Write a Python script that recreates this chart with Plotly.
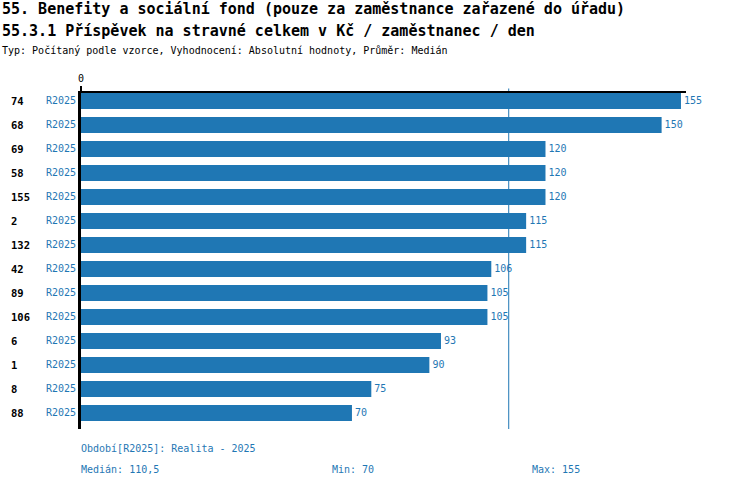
import plotly.graph_objects as go

ids = ["74", "68", "69", "58", "155", "2", "132", "42", "89", "106", "6", "1", "8", "88"]
period = ["R2025"] * 14
values = [155, 150, 120, 120, 120, 115, 115, 106, 105, 105, 93, 90, 75, 70]
median_val = 110.5
min_val = 70
max_val = 155

title1 = "55. Benefity a sociální fond (pouze za zaměstnance zařazené do úřadu)"
title2 = "55.3.1 Příspěvek na stravné celkem v Kč / zaměstnanec / den"
subtitle = "Typ: Počítaný podle vzorce, Vyhodnocení: Absolutní hodnoty, Průměr: Medián"
period_text = "Období[R2025]: Realita - 2025"

BLUE = "#1f77b4"
MONO = "DejaVu Sans Mono"

W, H = 750, 488
L, R, T, B = 81, 64, 92.5, 59
pw = W - L - R
ph = H - T - B

ypos = list(range(len(values)))

fig = go.Figure()
fig.add_trace(go.Bar(
    x=values, y=ypos, orientation="h",
    marker=dict(color=BLUE, line=dict(width=0)),
    width=0.667,
    text=[str(v) for v in values],
    textposition="outside",
    textfont=dict(family=MONO, size=10, color=BLUE),
    constraintext="none",
    cliponaxis=False,
    hoverinfo="skip",
))

def px_x(p):
    return (p - L) / pw

def px_y(p):
    return 1 + (T - p) / ph

ann = []
ann.append(dict(text="<b>" + title1 + "</b>", x=px_x(0), y=px_y(8), xref="paper", yref="paper",
                xanchor="left", yanchor="middle", showarrow=False,
                font=dict(family=MONO, size=15, color="black")))
ann.append(dict(text="<b>" + title2 + "</b>", x=px_x(0), y=px_y(30), xref="paper", yref="paper",
                xanchor="left", yanchor="middle", showarrow=False,
                font=dict(family=MONO, size=15, color="black")))
ann.append(dict(text=subtitle, x=px_x(0), y=px_y(50), xref="paper", yref="paper",
                xanchor="left", yanchor="middle", showarrow=False,
                font=dict(family=MONO, size=10, color="black")))
for i, (idv, per) in enumerate(zip(ids, period)):
    ann.append(dict(text="<b>" + idv + "</b>", x=px_x(9), y=i, xref="paper", yref="y",
                    xanchor="left", yanchor="middle", showarrow=False,
                    font=dict(family=MONO, size=10.5, color="black")))
    ann.append(dict(text=per, x=px_x(77.5), y=i, xref="paper", yref="y",
                    xanchor="right", yanchor="middle", showarrow=False,
                    font=dict(family=MONO, size=10, color=BLUE)))
ann.append(dict(text=period_text, x=px_x(79), y=px_y(449), xref="paper", yref="paper",
                xanchor="left", yanchor="middle", showarrow=False,
                font=dict(family=MONO, size=10, color=BLUE)))
ann.append(dict(text="Medián: " + str(median_val).replace(".", ","), x=px_x(79), y=px_y(470),
                xref="paper", yref="paper", xanchor="left", yanchor="middle", showarrow=False,
                font=dict(family=MONO, size=10, color=BLUE)))
ann.append(dict(text="Min: " + str(min_val), x=px_x(330), y=px_y(470),
                xref="paper", yref="paper", xanchor="left", yanchor="middle", showarrow=False,
                font=dict(family=MONO, size=10, color=BLUE)))
ann.append(dict(text="Max: " + str(max_val), x=px_x(530), y=px_y(470),
                xref="paper", yref="paper", xanchor="left", yanchor="middle", showarrow=False,
                font=dict(family=MONO, size=10, color=BLUE)))

shapes = [
    dict(type="line", xref="x", yref="paper", x0=median_val, x1=median_val,
         y0=0, y1=px_y(88), line=dict(color=BLUE, width=1), layer="below"),
]

fig.update_layout(
    width=W, height=H,
    margin=dict(l=L, r=R, t=T, b=B, pad=0),
    paper_bgcolor="white", plot_bgcolor="white",
    showlegend=False,
    bargap=0.333,
    xaxis=dict(side="top", range=[0, 156.3], tickvals=[0], ticktext=["0"],
               ticks="outside", ticklen=5, tickwidth=2, tickcolor="black",
               showgrid=False, zeroline=False,
               showline=True, linecolor="black", linewidth=1.5,
               tickfont=dict(family=MONO, size=10, color="black"), fixedrange=True),
    yaxis=dict(range=[13.67, -0.333], showticklabels=False, ticks="",
               showgrid=False, zeroline=False,
               showline=True, linecolor="black", linewidth=2.5, fixedrange=True),
    annotations=ann,
    shapes=shapes,
)

fig.write_html("out.html", config={"displayModeBar": False},
               post_script="document.body.style.margin='0';document.body.style.padding='0';")
